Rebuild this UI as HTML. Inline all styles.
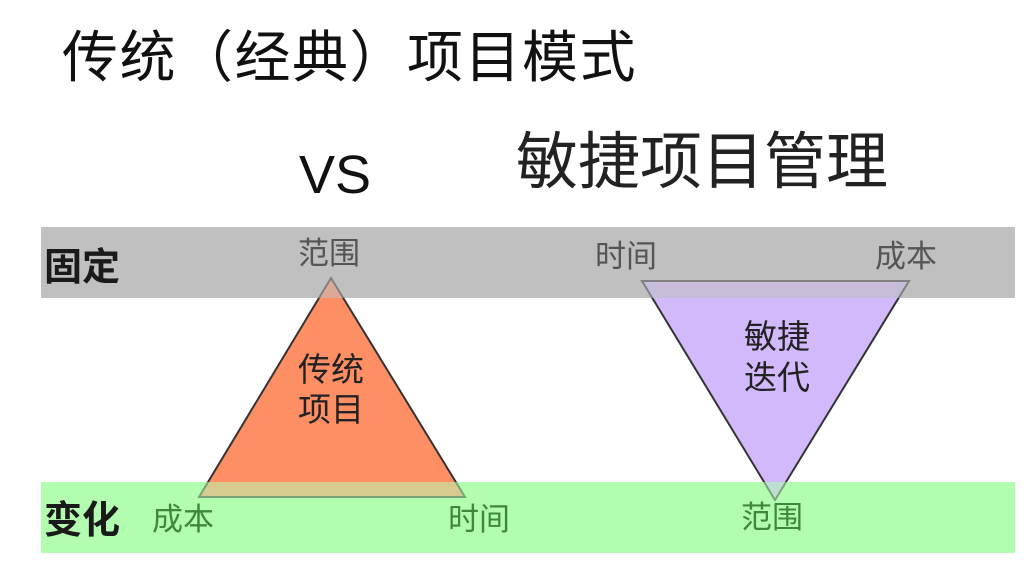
<!DOCTYPE html>
<html><head><meta charset="utf-8"><style>
body{margin:0;background:#fff;width:1027px;height:560px;overflow:hidden}
</style></head><body>
<svg width="1027" height="560" xmlns="http://www.w3.org/2000/svg" style="font-family:'Liberation Sans','Noto Sans CJK SC',sans-serif">
<rect x="41" y="227" width="974" height="71" fill="#c0c0c0"/>
<rect x="41" y="482" width="974" height="71" fill="#b2fdb0"/>
<polygon points="331,278 199,497 465,497" fill="#fe8e64" stroke="#333" stroke-width="2"/>
<polygon points="642,281 909,281 775,500" fill="#d2b9fc" stroke="#333" stroke-width="2"/>
<rect x="41" y="227" width="974" height="71" fill="#c0c0c0" opacity="0.55"/>
<rect x="41" y="482" width="974" height="71" fill="#b2fdb0" opacity="0.55"/>
<text x="62" y="77" font-size="56" fill="#111" letter-spacing="1.5">传统（经典）项目模式</text>
<text x="299" y="193" font-size="54" fill="#111">VS</text>
<text x="516" y="183" font-size="62" fill="#222">敏捷项目管理</text>
<text x="44" y="280" font-size="38" fill="#1a1a1a" font-weight="600">固定</text>
<text x="44" y="533" font-size="38" fill="#1a1a1a" font-weight="600">变化</text>
<text x="298" y="264" font-size="31" fill="#555">范围</text>
<text x="595" y="267" font-size="31" fill="#555">时间</text>
<text x="875" y="267" font-size="31" fill="#555">成本</text>
<text x="152" y="530" font-size="31" fill="#3a8a3a">成本</text>
<text x="448" y="530" font-size="31" fill="#3a8a3a">时间</text>
<text x="741" y="528" font-size="31" fill="#3a8a3a">范围</text>
<text x="298" y="381" font-size="33" fill="#222">传统</text>
<text x="298" y="421" font-size="33" fill="#222">项目</text>
<text x="744" y="348" font-size="33" fill="#222">敏捷</text>
<text x="744" y="389" font-size="33" fill="#222">迭代</text>
</svg>
</body></html>
